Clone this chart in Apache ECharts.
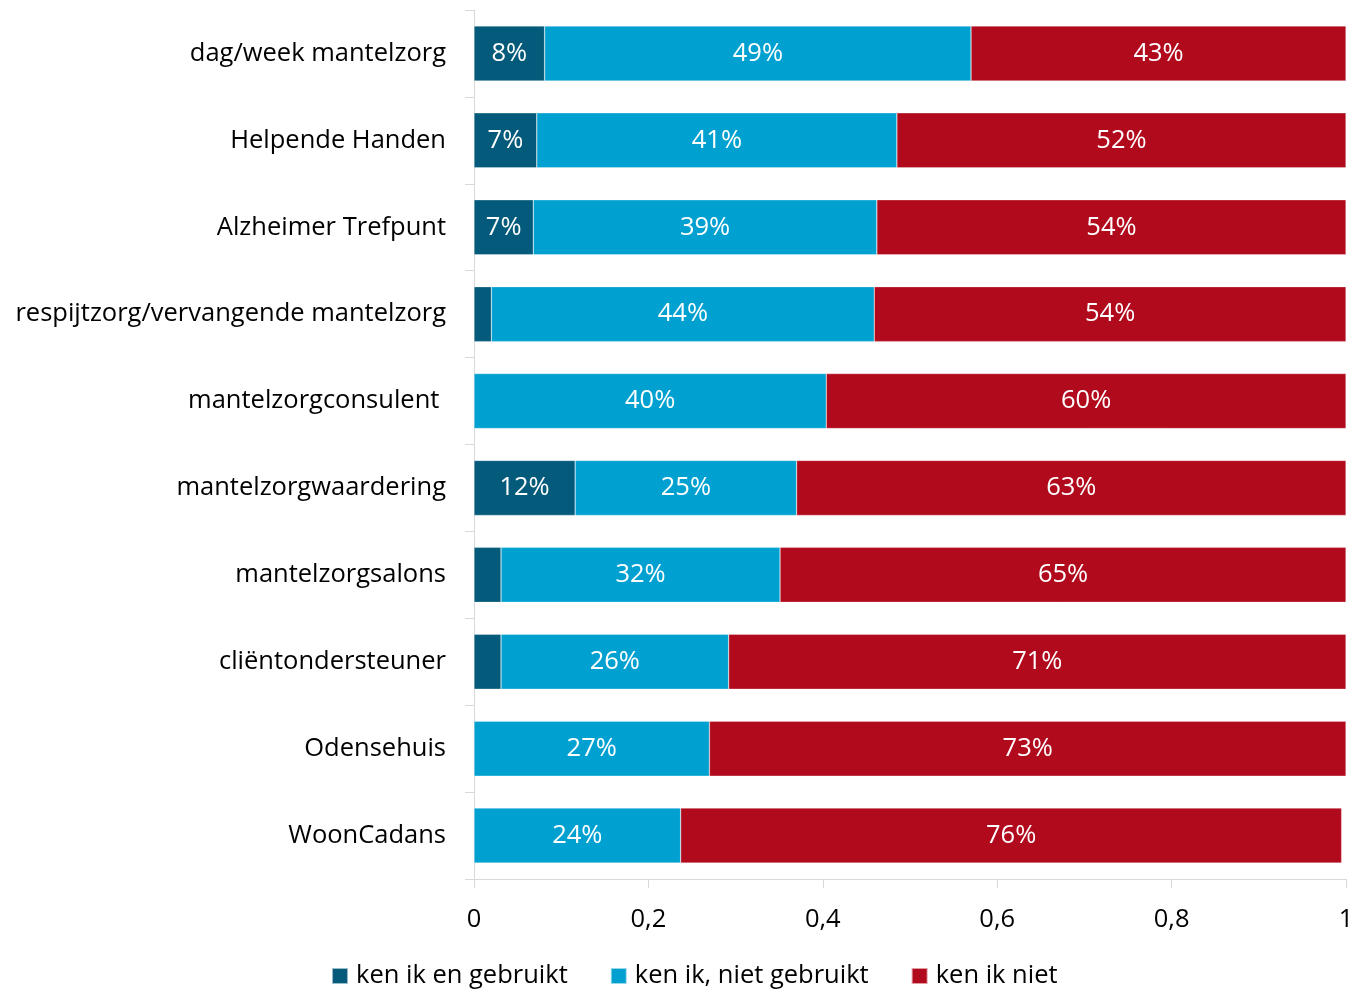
<!DOCTYPE html>
<html>
<head>
<meta charset="utf-8">
<script src="https://cdn.jsdelivr.net/npm/echarts@6/dist/echarts.min.js"></script>
<style>
  html, body { margin: 0; padding: 0; background: #fff; }
  #chart { width: 1353px; height: 992px; }
</style>
</head>
<body>
<div id="chart"></div>
<script>
const categories = [
  'dag/week mantelzorg',
  'Helpende Handen',
  'Alzheimer Trefpunt',
  'respijtzorg/vervangende mantelzorg',
  'mantelzorgconsulent ',
  'mantelzorgwaardering',
  'mantelzorgsalons',
  'cliëntondersteuner',
  'Odensehuis',
  'WoonCadans'
];
const seriesNames = ['ken ik en gebruikt', 'ken ik, niet gebruikt', 'ken ik niet'];
const usedValues = [0.081, 0.072, 0.068, 0.02, 0, 0.116, 0.031, 0.031, 0, 0];
const knownValues = [0.489, 0.413, 0.394, 0.439, 0.404, 0.254, 0.32, 0.261, 0.27, 0.237];
const unknownValues = [0.43, 0.515, 0.538, 0.541, 0.596, 0.63, 0.649, 0.708, 0.73, 0.758];
const xTicks = [0, 0.2, 0.4, 0.6, 0.8, 1];

const colors = ['#045a7a', '#00a1d0', '#b10a1d'];
const font = '"Open Sans", Lato, sans-serif';
const fs = 25.5;

const chart = echarts.init(document.getElementById('chart'));

function makeSeries(name, data, color) {
  return {
    name: name,
    type: 'bar',
    stack: 'total',
    barWidth: 55,
    data: data,
    itemStyle: { color: color, borderColor: 'rgba(255,255,255,0.6)', borderWidth: 0.5 },
    label: {
      show: true,
      position: 'inside',
      color: '#fff',
      fontFamily: font,
      fontSize: fs,
      // small segments get no label
      formatter: p => p.value < 0.05 ? '' : Math.round(p.value * 100) + '%'
    }
  };
}

chart.setOption({
  animation: false,
  color: colors,
  grid: { left: 474, right: 7, top: 10, bottom: 113, outerBoundsMode: 'none' },
  legend: {
    left: 331,
    top: 963,
    padding: 0,
    itemWidth: 16,
    itemHeight: 16,
    itemGap: 42,
    icon: 'rect',
    textStyle: { fontFamily: font, fontSize: fs, color: '#000', padding: [0, 0, 0, 3] },
    data: seriesNames
  },
  xAxis: {
    type: 'value',
    min: xTicks[0],
    max: xTicks[xTicks.length - 1],
    interval: 0.2,
    axisLine: { show: true, lineStyle: { color: '#d9d9d9' } },
    axisTick: { show: true, length: 9, lineStyle: { color: '#d9d9d9' } },
    splitLine: { show: false },
    axisLabel: {
      margin: 28,
      fontFamily: font,
      fontSize: fs,
      color: '#000',
      formatter: v => String(Math.round(v * 10) / 10).replace('.', ',')
    }
  },
  yAxis: {
    type: 'category',
    inverse: true,
    data: categories,
    axisLine: { show: true, lineStyle: { color: '#d9d9d9' } },
    axisTick: { show: true, length: 9, lineStyle: { color: '#d9d9d9' } },
    axisLabel: {
      margin: 28,
      fontFamily: font,
      fontSize: fs,
      color: '#000'
    }
  },
  series: [
    makeSeries(seriesNames[0], usedValues, colors[0]),
    makeSeries(seriesNames[1], knownValues, colors[1]),
    makeSeries(seriesNames[2], unknownValues, colors[2])
  ]
});
</script>
</body>
</html>
